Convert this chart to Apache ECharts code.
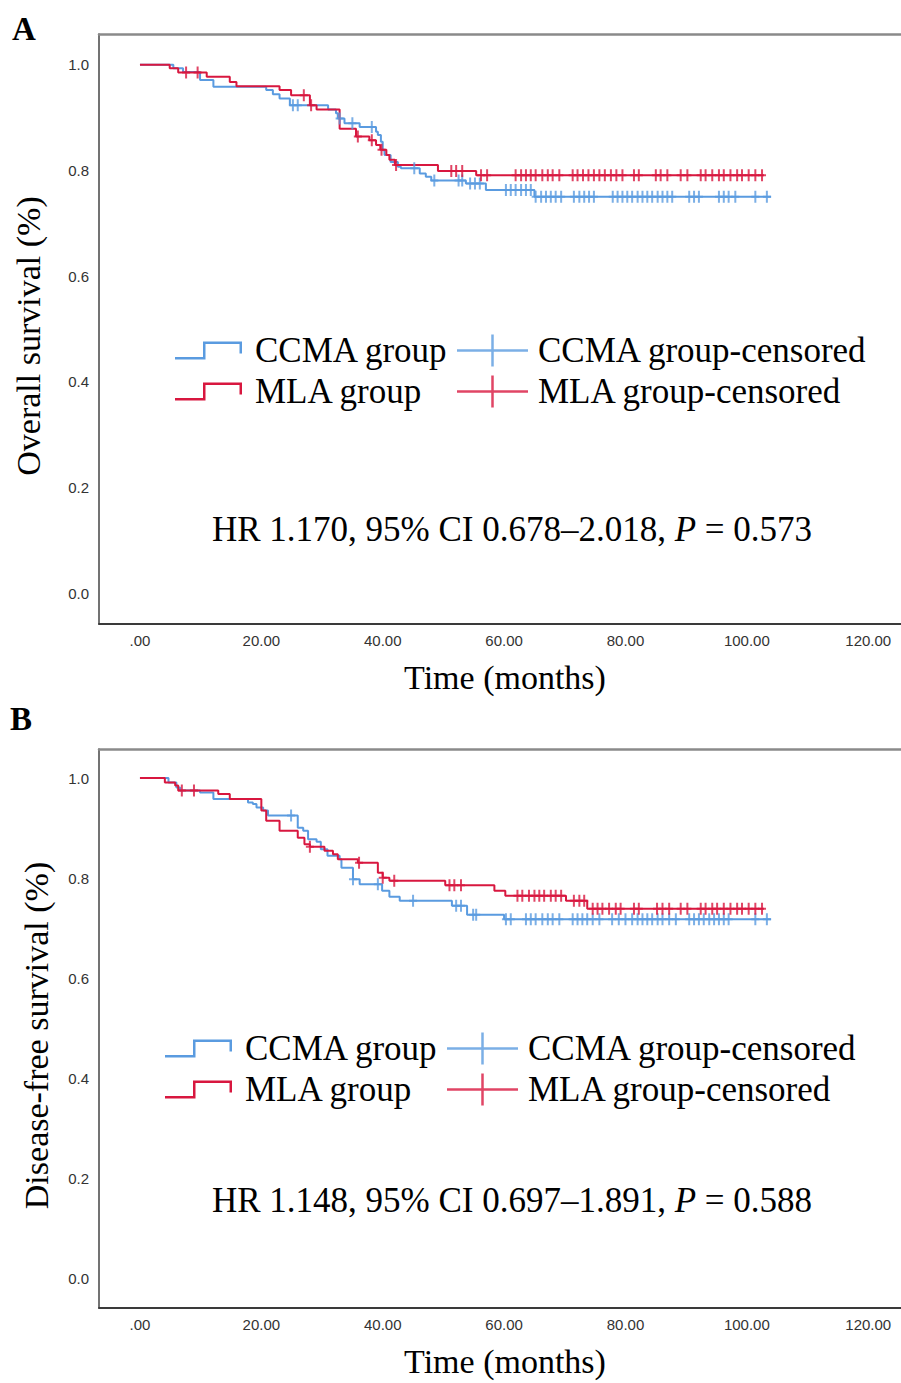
<!DOCTYPE html>
<html>
<head>
<meta charset="utf-8">
<script src="https://cdn.jsdelivr.net/npm/echarts@6.0.0/dist/echarts.min.js"></script>
<style>
  html, body { margin: 0; padding: 0; background: #fff; }
  #chart { width: 901px; height: 1383px; }
</style>
</head>
<body>
<div id="chart"></div>
<script>
// tick labels
const xTicks = [0, 20, 40, 60, 80, 100, 120]
const yTicks = [0, 0.2, 0.4, 0.6, 0.8, 1.0]

// A: overall survival, [months, survival] at each step
const osCCMA = [[0, 1.0], [5.5, 0.993], [7.1, 0.986], [9.9, 0.971], [12.1, 0.958], [20.8, 0.952], [21.9, 0.944],
  [23.0, 0.936], [24.7, 0.923], [31.0, 0.915], [32.3, 0.908], [32.6, 0.898], [33.7, 0.889], [36.2, 0.882],
  [38.9, 0.873], [39.2, 0.867], [39.7, 0.854], [40.0, 0.838], [40.3, 0.829], [41.3, 0.816], [42.5, 0.807],
  [43.0, 0.804], [46.1, 0.794], [47.1, 0.788], [48.0, 0.781], [53.7, 0.775], [57.0, 0.763], [65.0, 0.750],
  [104.0, 0.750]]
const osCCMACensor = [25.2, 26.0, 32.9, 35.0, 38.2, 45.2, 48.5, 52.5, 53.1, 54.4, 55.2, 56.0, 60.3, 61.1, 61.9,
  62.8, 63.6, 64.4, 65.2, 66.1, 66.9, 67.7, 68.5, 69.4, 71.5, 72.4, 73.2, 74.0, 74.8, 77.9, 78.7, 79.5, 80.3,
  81.1, 82.0, 82.8, 83.6, 84.4, 85.3, 86.1, 86.9, 87.7, 90.5, 91.3, 92.1, 95.4, 96.2, 97.0, 98.1, 101.4, 103.3]
const osMLA = [[0, 1.0], [4.9, 0.993], [6.3, 0.985], [11.0, 0.977], [14.8, 0.967], [15.9, 0.959], [23.0, 0.952],
  [24.9, 0.942], [28.0, 0.923], [29.1, 0.915], [32.9, 0.879], [35.6, 0.864], [37.8, 0.857], [38.9, 0.848],
  [39.6, 0.839], [40.6, 0.829], [41.1, 0.820], [42.0, 0.810], [49.1, 0.799], [55.4, 0.791], [102.8, 0.791]]
const osMLACensor = [7.6, 9.5, 27.0, 28.2, 35.9, 38.2, 39.8, 42.2, 51.3, 52.1, 53.1, 56.2, 57.2, 61.9, 62.8, 63.6,
  64.4, 65.2, 66.3, 67.2, 68.0, 69.1, 71.3, 72.1, 73.0, 73.9, 74.8, 75.7, 76.6, 77.6, 78.5, 79.5, 81.4, 82.2,
  85.0, 85.8, 86.9, 89.1, 90.2, 92.4, 93.2, 94.3, 95.4, 96.2, 97.3, 98.4, 99.2, 100.3, 101.4, 102.5]

// B: disease-free survival
const dfsCCMA = [[0, 1.0], [4.7, 0.991], [6.0, 0.981], [6.6, 0.975], [9.9, 0.971], [12.1, 0.958], [17.8, 0.951],
  [18.6, 0.948], [19.2, 0.941], [20.3, 0.935], [21.1, 0.925], [26.0, 0.901], [26.9, 0.895], [27.7, 0.878],
  [29.1, 0.873], [29.8, 0.858], [30.9, 0.845], [32.9, 0.838], [33.2, 0.821], [35.1, 0.798], [36.2, 0.788],
  [39.9, 0.775], [41.1, 0.763], [42.8, 0.755], [51.4, 0.745], [53.9, 0.727], [60.0, 0.718], [104.0, 0.718]]
const dfsCCMACensor = [24.9, 35.1, 39.2, 45.0, 52.1, 52.9, 54.9, 55.4, 60.3, 61.1, 63.6, 64.4, 65.2, 66.3, 67.2,
  68.0, 69.1, 71.3, 72.1, 72.9, 73.7, 74.6, 75.7, 77.8, 78.9, 80.0, 81.1, 82.0, 82.8, 83.6, 84.4, 85.3, 86.1,
  87.2, 88.3, 90.5, 91.3, 92.1, 92.9, 93.8, 94.6, 95.4, 96.2, 97.0, 101.4, 103.3]
const dfsMLA = [[0, 1.0], [4.1, 0.991], [5.8, 0.985], [6.3, 0.975], [12.9, 0.968], [14.8, 0.958], [20.0, 0.935],
  [20.8, 0.915], [23.0, 0.895], [26.0, 0.881], [27.1, 0.868], [28.0, 0.863], [30.4, 0.855], [31.8, 0.848],
  [32.6, 0.838], [35.9, 0.831], [39.2, 0.811], [40.0, 0.801], [41.1, 0.795], [50.3, 0.786], [58.4, 0.775],
  [60.2, 0.765], [70.2, 0.755], [73.7, 0.739], [102.8, 0.739]]
const dfsMLACensor = [6.9, 8.9, 28.0, 36.1, 40.0, 41.9, 51.0, 51.8, 52.9, 62.2, 63.0, 64.1, 65.0, 65.8, 66.6, 67.7,
  68.5, 69.4, 71.5, 72.4, 73.2, 74.6, 75.4, 76.2, 77.3, 78.4, 79.2, 81.4, 82.2, 85.2, 86.1, 87.2, 89.1, 90.2,
  92.4, 93.2, 94.3, 95.1, 96.2, 97.3, 98.4, 99.2, 100.3, 101.4, 102.5]

const blue = '#5a9be0'
const red = '#d8173f'
const serif = "'Liberation Serif', 'Times New Roman', serif"
const sans = "'Liberation Sans', Arial, sans-serif"

const stepIcon = 'path://M0,15.5L28,15.5L28,0L67,0L67,12L64.5,12L64.5,2.5L30.5,2.5L30.5,18L0,18Z'
const crossIcon = 'path://M0,14.75L34.25,14.75L34.25,0L36.75,0L36.75,14.75L71,14.75L71,17.25L36.75,17.25L36.75,32L34.25,32L34.25,17.25L0,17.25Z'
const censorMark = 'path://M3,0L5,0L5,5L8,5L8,7L5,7L5,12L3,12L3,7L0,7L0,5L3,5Z'

// censored case sits on the curve at its time
function survivalAt(steps, t) {
  let s = steps[0][1]
  for (const p of steps) {
    if (p[0] <= t) s = p[1]
  }
  return s
}

function xAxisFor(gridIndex) {
  return {
    type: 'value', gridIndex: gridIndex, min: -6.75, max: 125.4,
    axisLine: { show: true, onZero: false, lineStyle: { color: '#3a3a3a', width: 2 } },
    axisTick: { show: false },
    splitLine: { show: false },
    axisLabel: {
      customValues: xTicks, margin: 9, color: '#333', fontFamily: sans, fontSize: 15,
      formatter: v => v === 0 ? '.00' : v.toFixed(2)
    },
    name: 'Time (months)', nameLocation: 'middle', nameGap: 36,
    nameTextStyle: { fontFamily: serif, fontSize: 34, color: '#000', padding: [0, 0, 0, 10] }
  }
}

// plain gray frame line along the top of each plot
function topFrameFor(gridIndex) {
  return {
    type: 'value', gridIndex: gridIndex, position: 'top', min: -6.75, max: 125.4,
    axisLine: { show: true, onZero: false, lineStyle: { color: '#8a8a8a', width: 2.5 } },
    axisTick: { show: false }, axisLabel: { show: false }, splitLine: { show: false }
  }
}

function yAxisFor(gridIndex, title, gap) {
  return {
    type: 'value', gridIndex: gridIndex, min: -0.058, max: 1.058,
    axisLine: { show: true, onZero: false, lineStyle: { color: '#444', width: 1.5 } },
    axisTick: { show: false },
    splitLine: { show: false },
    axisLabel: {
      customValues: yTicks, margin: 10, color: '#333', fontFamily: sans, fontSize: 15,
      padding: [5, 0, 0, 0], formatter: v => v.toFixed(1)
    },
    name: title, nameLocation: 'middle', nameGap: gap, nameRotate: 90,
    nameTextStyle: { fontFamily: serif, fontSize: 34, color: '#000', padding: [0, 14, 0, 0] }
  }
}

function curves(idx, ccma, ccmaCensor, mla, mlaCensor) {
  const line = (name, data, color) => ({
    name: name, type: 'line', step: 'end', xAxisIndex: idx, yAxisIndex: idx,
    data: data, showSymbol: false, symbol: 'none', color: color,
    lineStyle: { width: 2, color: color }, z: 2
  })
  const marks = (name, steps, times, color) => ({
    name: name, type: 'scatter', xAxisIndex: idx, yAxisIndex: idx,
    data: times.map(t => [t, survivalAt(steps, t)]),
    symbol: censorMark, symbolSize: [8, 12], color: color,
    itemStyle: { color: color }, z: 3
  })
  return [
    line('CCMA group', ccma, blue),
    marks('CCMA group-censored', ccma, ccmaCensor, blue),
    line('MLA group', mla, red),
    marks('MLA group-censored', mla, mlaCensor, red)
  ]
}

function legendsFor(rowTop, left1, left2) {
  const text = { fontFamily: serif, fontSize: 35, color: '#000' }
  return [
    {
      orient: 'vertical', left: left1, top: rowTop, padding: 0, itemGap: 6,
      itemWidth: 67, itemHeight: 18, selectedMode: false,
      itemStyle: { borderWidth: 0 },
      textStyle: Object.assign({ padding: [0, 0, 0, 8] }, text),
      data: [{ name: 'CCMA group', icon: stepIcon }, { name: 'MLA group', icon: stepIcon }]
    },
    {
      orient: 'vertical', left: left2, top: rowTop, padding: 0, itemGap: 6,
      itemWidth: 71, itemHeight: 32, selectedMode: false,
      itemStyle: { borderWidth: 0 },
      textStyle: Object.assign({ padding: [0, 0, 0, 5] }, text),
      data: [{ name: 'CCMA group-censored', icon: crossIcon }, { name: 'MLA group-censored', icon: crossIcon }]
    }
  ]
}

function hrText(x, y, str) {
  return {
    type: 'text', x: x, y: y,
    style: {
      text: str, align: 'center', verticalAlign: 'middle',
      fontFamily: serif, fontSize: 35, fill: '#000',
      rich: { i: { fontFamily: serif, fontSize: 35, fontStyle: 'italic', fill: '#000' } }
    }
  }
}

const chart = echarts.init(document.getElementById('chart'), null, { renderer: 'svg' })
chart.setOption({
  animation: false,
  backgroundColor: '#fff',
  grid: [
    { left: 99, top: 34, width: 804, height: 590 },
    { left: 99, top: 749, width: 804, height: 559 }
  ],
  xAxis: [xAxisFor(0), xAxisFor(1), topFrameFor(0), topFrameFor(1)],
  yAxis: [yAxisFor(0, 'Overall survival (%)', 54), yAxisFor(1, 'Disease-free survival (%)', 46)],
  legend: legendsFor(333, 175, 457).concat(legendsFor(1031, 165, 447)),
  series: curves(0, osCCMA, osCCMACensor, osMLA, osMLACensor)
    .concat(curves(1, dfsCCMA, dfsCCMACensor, dfsMLA, dfsMLACensor)),
  graphic: [
    { type: 'text', x: 12, y: 29, style: { text: 'A', fontFamily: serif, fontSize: 33, fontWeight: 'bold', fill: '#000', verticalAlign: 'middle' } },
    { type: 'text', x: 10, y: 719, style: { text: 'B', fontFamily: serif, fontSize: 33, fontWeight: 'bold', fill: '#000', verticalAlign: 'middle' } },
    hrText(512, 529, 'HR 1.170, 95% CI 0.678\u20132.018, {i|P} = 0.573'),
    hrText(512, 1200, 'HR 1.148, 95% CI 0.697\u20131.891, {i|P} = 0.588')
  ]
})
</script>
</body>
</html>
